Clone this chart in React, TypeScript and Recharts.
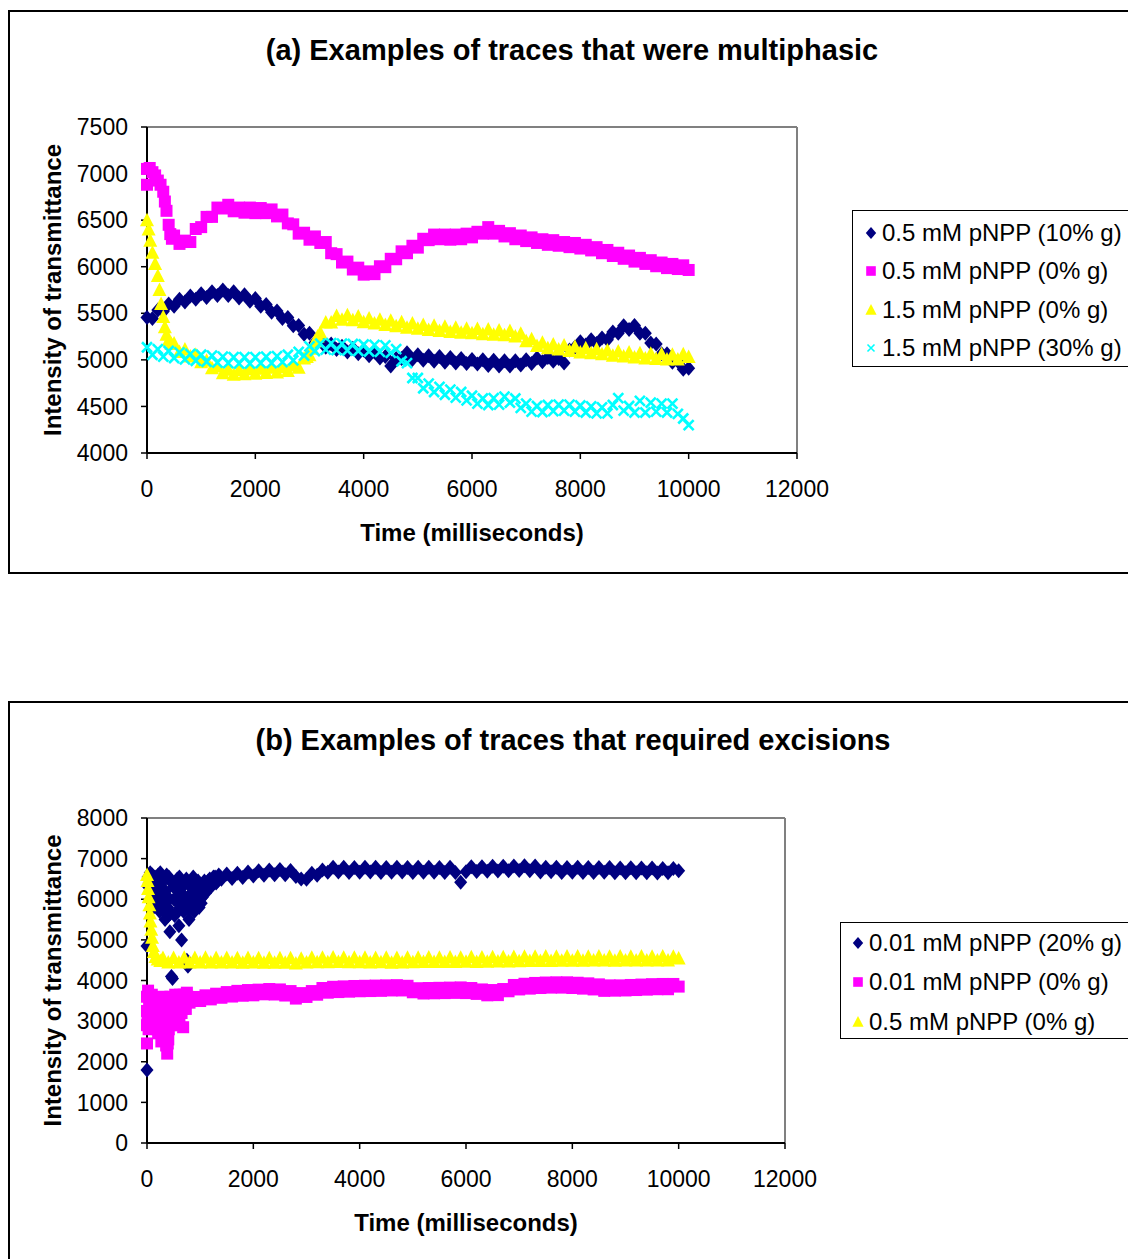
import { ScatterChart, Scatter, XAxis, YAxis, ReferenceLine } from 'recharts';

const NAVY = '#000080';
const MAGENTA = '#FF00FF';
const YELLOW = '#FFFF00';
const CYAN = '#00FFFF';
const FONT = '"Liberation Sans", Arial, Helvetica, sans-serif';

// traces are sampled every 100 ms
const STEP_MS = 100;

const timeTicks = [0, 2000, 4000, 6000, 8000, 10000, 12000];
const ticksA = [4000, 4500, 5000, 5500, 6000, 6500, 7000, 7500];
const ticksB = [0, 1000, 2000, 3000, 4000, 5000, 6000, 7000, 8000];

// ---- (a) multiphasic traces, 0..10000 ms ----
const navyA = [
  5455, 5445, 5535, 5520, 5600, 5575, 5650, 5620, 5685, 5650,
  5710, 5670, 5730, 5690, 5750, 5690, 5730, 5665, 5700, 5630,
  5660, 5575, 5595, 5510, 5525, 5445, 5455, 5365, 5370, 5275,
  5285, 5185, 5205, 5135, 5170, 5110, 5145, 5085, 5125, 5065,
  5105, 5045, 5085, 5020, 5035, 4935, 5015, 5015, 5075, 5005,
  5055, 4995, 5045, 4985, 5035, 4975, 5025, 4965, 5015, 4960,
  5005, 4955, 5000, 4940, 4995, 4935, 4990, 4935, 4990, 4945,
  5000, 4960, 5020, 4980, 5025, 4985, 5015, 4965, 5105, 5135,
  5195, 5160, 5215, 5175, 5235, 5215, 5300, 5285, 5365, 5325,
  5370, 5285, 5285, 5180, 5170, 5065, 5065, 4975, 4985, 4900,
  4910,
];

const magentaA = [
  6880, 7015, 6925, 6805, 6450, 6335, 6245, 6280, 6265, 6405,
  6425, 6535, 6535, 6635, 6625, 6665, 6595, 6635, 6580, 6635,
  6575, 6630, 6575, 6615, 6540, 6560, 6465, 6455, 6355, 6365,
  6290, 6325, 6255, 6265, 6145, 6135, 6045, 6055, 5970, 5990,
  5915, 5950, 5920, 6005, 5995, 6085, 6080, 6165, 6145, 6225,
  6205, 6300, 6285, 6345, 6295, 6345, 6290, 6345, 6295, 6355,
  6315, 6375, 6355, 6425, 6355, 6385, 6325, 6360, 6295, 6335,
  6275, 6315, 6255, 6295, 6235, 6285, 6225, 6265, 6210, 6255,
  6195, 6235, 6175, 6210, 6145, 6180, 6115, 6150, 6085, 6120,
  6055, 6095, 6030, 6070, 6005, 6045, 5985, 6030, 5975, 6015,
  5965,
];
const magentaAExtra = [[0, 7050], [50, 7060], [150, 6980], [250, 6880], [330, 6700], [360, 6600], [430, 6350], [460, 6300]];

const yellowA = [
  6500, 6150, 5900, 5460, 5210, 5175, 5085, 5110, 5035, 5055,
  4975, 4990, 4910, 4930, 4855, 4895, 4840, 4890, 4845, 4900,
  4850, 4905, 4860, 4915, 4865, 4920, 4880, 4940, 4915, 5015,
  5050, 5200, 5290, 5400, 5400, 5470, 5430, 5480, 5425, 5465,
  5405, 5445, 5390, 5430, 5375, 5420, 5360, 5405, 5345, 5390,
  5335, 5375, 5320, 5365, 5310, 5355, 5300, 5345, 5290, 5335,
  5285, 5330, 5275, 5325, 5270, 5315, 5265, 5310, 5250, 5280,
  5200, 5220, 5150, 5185, 5125, 5165, 5110, 5155, 5095, 5140,
  5080, 5125, 5070, 5115, 5060, 5100, 5045, 5090, 5035, 5080,
  5025, 5070, 5015, 5065, 5010, 5060, 5005, 5055, 5005, 5060,
  5030,
];
const yellowAExtra = [
  [30, 6400], [60, 6280], [150, 6030], [230, 5750], [260, 5600], [330, 5350], [360, 5270], [450, 5170],
  [2950, 5030], [3050, 5120], [3150, 5250],
];

const cyanA = [
  5135, 5055, 5115, 5035, 5095, 5020, 5080, 5005, 5065, 4990,
  5055, 4980, 5045, 4970, 5035, 4965, 5030, 4960, 5030, 4960,
  5030, 4965, 5035, 4965, 5040, 4975, 5055, 4995, 5085, 5045,
  5145, 5095, 5175, 5110, 5180, 5105, 5175, 5100, 5170, 5095,
  5165, 5090, 5160, 5085, 5155, 5075, 5115, 4985, 4965, 4805,
  4805, 4695, 4745, 4655, 4710, 4625, 4680, 4595, 4655, 4565,
  4615, 4530, 4585, 4515, 4590, 4520, 4605, 4540, 4585, 4485,
  4530, 4445, 4505, 4440, 4515, 4450, 4520, 4455, 4520, 4445,
  4510, 4435, 4500, 4425, 4490, 4425, 4515, 4590, 4455, 4505,
  4435, 4560, 4435, 4540, 4445, 4530, 4435, 4530, 4420, 4370,
  4300,
];

// ---- (b) traces with excisions ----
// scattered start-up readings before each trace settles
const navyBEarly = [
  [0, 1800], [0, 4850], [20, 6550], [30, 6300], [40, 6400], [60, 6650], [70, 6000], [90, 6200],
  [100, 6600], [110, 6500], [120, 5800], [140, 5900], [150, 6550], [160, 6350], [180, 6400], [190, 6050],
  [200, 5900], [210, 6600], [230, 6300], [240, 5700], [250, 6650], [260, 6250], [280, 6100], [290, 5950],
  [300, 5750], [310, 6450], [330, 6500], [340, 5500], [350, 6200], [360, 6100], [370, 6600], [390, 5800],
  [400, 5600], [410, 6550], [420, 6000], [430, 5200], [440, 5650], [460, 4100], [470, 6400], [480, 4050],
  [500, 6300], [510, 6000], [520, 5600], [540, 6350], [550, 5950], [560, 5700], [570, 6500], [590, 6100],
  [600, 5350], [610, 6550], [620, 6200], [640, 5800], [650, 5000], [660, 6300], [670, 5750], [690, 5700],
  [700, 6400], [710, 6000], [720, 6050], [740, 6500], [750, 4500], [760, 5800], [770, 4350], [790, 5500],
  [800, 6100], [820, 6300], [830, 5900], [850, 5850], [860, 6250], [870, 6550], [890, 5700], [900, 6100],
  [920, 6350], [930, 5800], [950, 6000], [960, 6450], [980, 5800], [990, 6200], [1010, 6300], [1020, 5900],
  [1040, 6050], [1060, 6350], [1080, 6450], [1100, 6150], [1120, 6300], [1150, 6450], [1180, 6500],
  [1200, 6300], [1230, 6350], [1250, 6550], [1280, 6550], [1300, 6400], [1330, 6450], [1350, 6600], [1380, 6550],
];
// from 1400 ms
const navyB = [
  6490, 6620, 6510, 6640, 6535, 6670, 6570, 6700, 6590, 6720,
  6605, 6730, 6605, 6710, 6560, 6500, 6490, 6640, 6590, 6720,
  6665, 6785, 6670, 6790, 6660, 6780, 6665, 6790, 6670, 6785,
  6660, 6780, 6665, 6790, 6670, 6780, 6660, 6785, 6665, 6790,
  6665, 6780, 6660, 6785, 6660, 6420, 6680, 6800, 6685, 6800,
  6690, 6810, 6695, 6815, 6700, 6820, 6705, 6825, 6700, 6820,
  6670, 6790, 6675, 6790, 6660, 6780, 6665, 6785, 6660, 6780,
  6660, 6780, 6665, 6780, 6650, 6770, 6655, 6775, 6650, 6770,
  6650, 6770, 6645, 6760, 6650, 6760, 6700,
];

const magentaBEarly = [
  [0, 2450], [0, 2900], [0, 3250], [0, 3600], [10, 3100], [20, 3750], [30, 2800], [40, 3400],
  [50, 3600], [60, 3000], [70, 3200], [90, 3650], [100, 3450], [110, 3200], [120, 2950], [140, 2850],
  [160, 3500], [170, 3300], [190, 3100], [200, 2800], [210, 2700], [220, 3550], [240, 3400], [250, 3200],
  [260, 2950], [270, 2500], [290, 3600], [300, 3350], [310, 2600], [320, 2850], [340, 3250], [350, 3100],
  [360, 2400], [380, 2200], [390, 2450], [400, 2550], [410, 2800], [420, 3300], [440, 3600], [450, 2900],
  [460, 3200], [470, 3550], [490, 3450], [500, 3100], [520, 2950], [530, 3650], [550, 3500], [560, 2900],
  [570, 3250], [590, 3400], [610, 3000], [620, 3650], [640, 3550], [650, 3200], [670, 3300], [680, 2850],
  [690, 3650], [700, 3500], [720, 3450], [730, 3300], [750, 3700], [760, 3600], [780, 3500],
];
// from 800 ms
const magentaB = [
  3455, 3595, 3495, 3635, 3535, 3675, 3575, 3715, 3605, 3745,
  3625, 3765, 3635, 3775, 3660, 3790, 3655, 3780, 3630, 3740,
  3555, 3690, 3595, 3740, 3650, 3815, 3700, 3845, 3715, 3855,
  3725, 3865, 3735, 3870, 3740, 3875, 3745, 3880, 3755, 3885,
  3755, 3870, 3710, 3810, 3680, 3815, 3685, 3820, 3690, 3825,
  3695, 3830, 3690, 3815, 3670, 3780, 3635, 3765, 3640, 3790,
  3735, 3890, 3780, 3920, 3800, 3940, 3815, 3950, 3825, 3955,
  3825, 3955, 3815, 3945, 3800, 3930, 3780, 3905, 3745, 3880,
  3750, 3880, 3755, 3890, 3765, 3900, 3775, 3910, 3785, 3915,
  3785, 3915, 3850,
];

const yellowBEarly = [
  [0, 6600], [10, 6450], [20, 6250], [30, 6050], [45, 5850], [55, 5650], [65, 5450],
  [80, 5250], [95, 5050], [110, 4850], [130, 4700], [160, 4580], [200, 4520], [250, 4480],
];
// from 300 ms
const yellowB = [
  4555, 4445, 4555, 4445, 4560, 4445, 4555, 4445, 4560, 4445,
  4555, 4445, 4555, 4445, 4550, 4440, 4555, 4445, 4550, 4440,
  4550, 4440, 4545, 4435, 4545, 4420, 4535, 4445, 4560, 4450,
  4560, 4450, 4565, 4455, 4560, 4450, 4560, 4450, 4560, 4445,
  4555, 4450, 4560, 4440, 4555, 4445, 4560, 4450, 4560, 4455,
  4565, 4455, 4560, 4455, 4565, 4455, 4560, 4460, 4570, 4455,
  4565, 4460, 4570, 4465, 4575, 4470, 4580, 4475, 4585, 4480,
  4585, 4480, 4590, 4480, 4585, 4485, 4590, 4485, 4590, 4485,
  4585, 4490, 4590, 4490, 4585, 4485, 4590, 4490, 4585, 4490,
  4590, 4490, 4585, 4490, 4590, 4495, 4585, 4540,
];

type Pt = { t: number; v: number };
const sampled = (start: number, values: number[]): Pt[] =>
  values.map((v, i) => ({ t: start + i * STEP_MS, v }));
const pairs = (list: number[][]): Pt[] => list.map(([t, v]) => ({ t, v }));

type MarkerKind = 'diamond' | 'square' | 'triangle' | 'x';

function Marker({ kind, cx, cy, color, s = 1 }: { kind: MarkerKind; cx: number; cy: number; color: string; s?: number }) {
  if (kind === 'diamond') {
    const w = 6.5 * s, h = 7.5 * s;
    return <path d={`M${cx},${cy - h}L${cx + w},${cy}L${cx},${cy + h}L${cx - w},${cy}Z`} fill={color} />;
  }
  if (kind === 'square') {
    const h = 6 * s;
    return <rect x={cx - h} y={cy - h} width={2 * h} height={2 * h} fill={color} />;
  }
  if (kind === 'triangle') {
    const w = 7 * s;
    return <path d={`M${cx},${cy - 7.5 * s}L${cx + w},${cy + 6 * s}L${cx - w},${cy + 6 * s}Z`} fill={color} />;
  }
  const r = 5 * s;
  return (
    <path
      d={`M${cx - r},${cy - r}L${cx + r},${cy + r}M${cx + r},${cy - r}L${cx - r},${cy + r}`}
      stroke={color}
      strokeWidth={s < 1 ? 1.6 : 2.6}
      fill="none"
    />
  );
}

type Series = { name: string; color: string; kind: MarkerKind; data: Pt[] };

const seriesA: Series[] = [
  { name: '0.5 mM pNPP (10% g)', color: NAVY, kind: 'diamond', data: sampled(0, navyA) },
  { name: '0.5 mM pNPP (0% g)', color: MAGENTA, kind: 'square', data: [...sampled(0, magentaA), ...pairs(magentaAExtra)] },
  { name: '1.5 mM pNPP (0% g)', color: YELLOW, kind: 'triangle', data: [...sampled(0, yellowA), ...pairs(yellowAExtra)] },
  { name: '1.5 mM pNPP (30% g)', color: CYAN, kind: 'x', data: sampled(0, cyanA) },
];

const seriesB: Series[] = [
  { name: '0.01 mM pNPP (20% g)', color: NAVY, kind: 'diamond', data: [...pairs(navyBEarly), ...sampled(1400, navyB)] },
  { name: '0.01 mM pNPP (0% g)', color: MAGENTA, kind: 'square', data: [...pairs(magentaBEarly), ...sampled(800, magentaB)] },
  { name: '0.5 mM pNPP (0% g)', color: YELLOW, kind: 'triangle', data: [...pairs(yellowBEarly), ...sampled(300, yellowB)] },
];

const tickStyle = { fontSize: 23, fill: '#000', fontFamily: FONT };
const axisTitle = { fontSize: 24, fontWeight: 700, fill: '#000', fontFamily: FONT };

type ChartProps = {
  top: number;
  height: number;
  margin: { top: number; right: number; bottom: number; left: number };
  yDomain: [number, number];
  yTicks: number[];
  series: Series[];
};

function TraceChart({ top, height, margin, yDomain, yTicks, series }: ChartProps) {
  return (
    <div style={{ position: 'absolute', left: 0, top }}>
      <ScatterChart width={1128} height={height} margin={margin}>
        <XAxis
          type="number"
          dataKey="t"
          domain={[0, 12000]}
          ticks={timeTicks}
          interval={0}
          height={30}
          tick={tickStyle}
          tickSize={6}
          tickMargin={22}
          axisLine={{ stroke: '#000', strokeWidth: 2 }}
          tickLine={{ stroke: '#000', strokeWidth: 1.5 }}
          label={{ value: 'Time (milliseconds)', position: 'bottom', offset: 41, style: axisTitle }}
        />
        <YAxis
          type="number"
          dataKey="v"
          domain={yDomain}
          ticks={yTicks}
          interval={0}
          width={100}
          tick={tickStyle}
          tickSize={6}
          tickMargin={13}
          axisLine={{ stroke: '#000', strokeWidth: 2 }}
          tickLine={{ stroke: '#000', strokeWidth: 1.5 }}
          label={{
            value: 'Intensity of transmittance',
            angle: -90,
            position: 'insideLeft',
            offset: 5,
            style: { ...axisTitle, textAnchor: 'middle' },
          }}
        />
        <ReferenceLine y={yDomain[1]} stroke="#808080" strokeWidth={2} />
        <ReferenceLine x={12000} stroke="#808080" strokeWidth={2} />
        {series.map((s) => (
          <Scatter
            key={s.name}
            name={s.name}
            data={s.data}
            isAnimationActive={false}
            shape={(p: any) => <Marker kind={s.kind} cx={p.cx} cy={p.cy} color={s.color} />}
          />
        ))}
      </ScatterChart>
    </div>
  );
}

function LegendBox({ left, top, height, rows, markerX, series }: {
  left: number; top: number; height: number; rows: number[]; markerX: number; series: Series[];
}) {
  return (
    <div
      style={{
        position: 'absolute', left, top, width: 320, height,
        border: '1.5px solid #000', boxSizing: 'border-box', background: '#fff',
      }}
    >
      {series.map((s, i) => (
        <div key={s.name} style={{ position: 'absolute', left: 0, top: rows[i] - 12, height: 24, whiteSpace: 'nowrap' }}>
          <svg width={20} height={24} style={{ position: 'absolute', left: markerX - 10, top: 0 }}>
            <Marker kind={s.kind} cx={10} cy={12} color={s.color} s={s.kind === 'x' ? 0.7 : 0.8} />
          </svg>
          <span
            style={{
              position: 'absolute', left: markerX + 11, top: 0.3, fontFamily: FONT, fontSize: 24,
              lineHeight: '24px', color: '#000',
            }}
          >
            {s.name}
          </span>
        </div>
      ))}
    </div>
  );
}

function Title({ text, cx, top }: { text: string; cx: number; top: number }) {
  return (
    <div
      style={{
        position: 'absolute', left: cx, top, transform: 'translateX(-50%)', whiteSpace: 'nowrap',
        fontFamily: FONT, fontWeight: 700, fontSize: 29, lineHeight: '29px', color: '#000',
      }}
    >
      {text}
    </div>
  );
}

export default function App() {
  return (
    <div style={{ position: 'relative', width: 1128, height: 1259, overflow: 'hidden', background: '#fff' }}>
      <style>{'html,body{margin:0;padding:0;overflow:hidden;background:#fff}'}</style>
      <div style={{ position: 'absolute', left: 8, top: 10, width: 1140, height: 564, border: '2px solid #000', boxSizing: 'border-box' }} />
      <div style={{ position: 'absolute', left: 8, top: 701, width: 1140, height: 600, border: '2px solid #000', boxSizing: 'border-box' }} />

      <Title text="(a) Examples of traces that were multiphasic" cx={572} top={36} />
      <TraceChart
        top={0}
        height={580}
        margin={{ top: 127, right: 331, bottom: 97, left: 47 }}
        yDomain={[4000, 7500]}
        yTicks={ticksA}
        series={seriesA}
      />
      <LegendBox left={852} top={210} height={157} rows={[21.5, 60, 98.5, 137]} markerX={18} series={seriesA} />

      <Title text="(b) Examples of traces that required excisions" cx={573} top={726} />
      <TraceChart
        top={690}
        height={569}
        margin={{ top: 128, right: 343, bottom: 86, left: 47 }}
        yDomain={[0, 8000]}
        yTicks={ticksB}
        series={seriesB}
      />
      <LegendBox left={840} top={922} height={117} rows={[20, 58.5, 98.5]} markerX={17} series={seriesB} />
    </div>
  );
}
